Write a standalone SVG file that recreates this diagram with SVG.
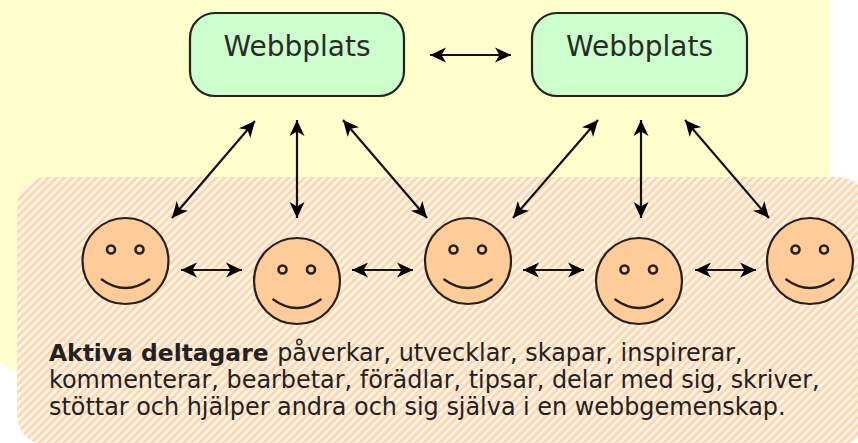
<svg xmlns="http://www.w3.org/2000/svg" width="858" height="443" viewBox="0 0 858 443">
<style>
.line{fill:none;stroke:#111;stroke-width:2.200;marker-start:url(#head);marker-end:url(#head)}
.site rect{fill:#ccffcc;stroke:#222;stroke-width:2.200}
.site text{font:28px "DejaVu Sans",sans-serif;fill:#2a2a2a;text-anchor:middle}
.head{fill:#ffcc99;stroke:#222;stroke-width:2.200}
.eye{fill:#ffcc99;stroke:#222;stroke-width:2.600}
.mouth{fill:none;stroke:#222;stroke-width:2.200}
.desc{font:23.900px "DejaVu Sans",sans-serif;fill:#222}
</style>
<defs>
<pattern id="stripes" width="5.660" height="5.660" patternUnits="userSpaceOnUse" patternTransform="rotate(45)">
<rect width="5.660" height="5.660" fill="#fff5ea"/>
<rect width="2.830" height="5.660" fill="#ffd6ae"/>
</pattern>
<marker id="head" markerUnits="userSpaceOnUse" markerWidth="20" markerHeight="20" refX="18" refY="10" orient="auto-start-reverse" viewBox="0 0 20 20">
<path d="M18 10L2 2.500L6.500 10L2 17.500Z" fill="#000"/>
</marker>
<g id="smile">
<circle class="head" cx="0" cy="0" r="43"/>
<circle class="eye" cx="-14.500" cy="-11.500" r="4"/>
<circle class="eye" cx="14" cy="-11.500" r="4"/>
<path class="mouth" d="M-24.500 18Q0 36 24.500 18"/>
</g>
</defs>
<path id="bg" d="M0 0H830V200H17V372L0 362Z" fill="#ffffcc"/>
<rect id="panel" x="17" y="177" width="851" height="268" rx="30" fill="url(#stripes)"/>
<g id="connectors">
<path class="line" d="M430 55H511"/>
<path class="line" d="M255 121L172 218"/>
<path class="line" d="M297 120V218"/>
<path class="line" d="M343 120L427 218"/>
<path class="line" d="M598 120L513 218"/>
<path class="line" d="M641 120V218"/>
<path class="line" d="M685 120L769 218"/>
<path class="line" d="M181 270H242"/>
<path class="line" d="M352 270H413"/>
<path class="line" d="M523 270H584"/>
<path class="line" d="M695 270H756"/>
</g>
<g id="site1" class="site"><rect x="190" y="13" width="214" height="83" rx="25"/><text x="297" y="56">Webbplats</text></g>
<g id="site2" class="site"><rect x="532" y="13" width="215" height="83" rx="25"/><text x="639.500" y="56">Webbplats</text></g>
<g id="face1" class="face"><use href="#smile" x="125.500" y="261"/></g>
<g id="face2" class="face"><use href="#smile" x="297" y="281"/></g>
<g id="face3" class="face"><use href="#smile" x="468" y="261"/></g>
<g id="face4" class="face"><use href="#smile" x="639" y="281"/></g>
<g id="face5" class="face"><use href="#smile" x="810" y="261"/></g>
<g id="description">
<text class="desc" x="49" y="361"><tspan font-weight="bold" font-size="23.400">Aktiva deltagare</tspan> <tspan dx="1">påverkar, utvecklar, skapar, inspirerar,</tspan></text>
<text class="desc" x="49" y="388">kommenterar, bearbetar, förädlar, tipsar, delar med sig, skriver,</text>
<text class="desc" x="49" y="415">stöttar och hjälper andra och sig själva i en webbgemenskap.</text>
</g>
</svg>
